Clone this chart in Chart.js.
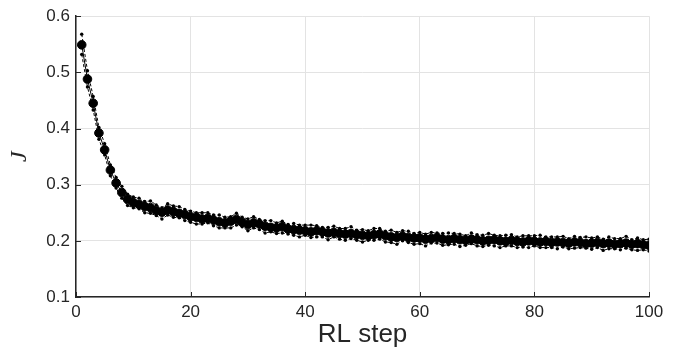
<!DOCTYPE html>
<html>
<head>
<meta charset="utf-8">
<script src="https://cdn.jsdelivr.net/npm/chart.js@4"></script>
<style>
    html, body { margin: 0; padding: 0; background: #ffffff; }
    #chartBox { width: 678px; height: 347px; position: relative; }
</style>
</head>
<body>
<div id="chartBox"><canvas id="lossChart"></canvas></div>
<script>
// RL steps 1..100
const rlSteps = Array.from({ length: 100 }, (_, i) => i + 1);

// mean cost J at each step
const meanJ = [
    0.549, 0.488, 0.445, 0.392, 0.362, 0.326, 0.303, 0.286, 0.274, 0.268,
    0.265, 0.261, 0.259, 0.254, 0.251, 0.255, 0.252, 0.249, 0.247, 0.243,
    0.242, 0.239, 0.240, 0.237, 0.234, 0.232, 0.235, 0.238, 0.233, 0.229,
    0.232, 0.230, 0.226, 0.224, 0.223, 0.225, 0.221, 0.220, 0.219, 0.218,
    0.216, 0.218, 0.216, 0.214, 0.215, 0.213, 0.212, 0.213, 0.211, 0.210,
    0.209, 0.211, 0.212, 0.209, 0.207, 0.206, 0.208, 0.206, 0.205, 0.205,
    0.203, 0.204, 0.206, 0.203, 0.202, 0.204, 0.202, 0.201, 0.203, 0.202,
    0.200, 0.201, 0.202, 0.200, 0.199, 0.201, 0.199, 0.198, 0.200, 0.199,
    0.198, 0.199, 0.197, 0.198, 0.197, 0.196, 0.198, 0.197, 0.195, 0.196,
    0.197, 0.195, 0.196, 0.194, 0.195, 0.196, 0.194, 0.195, 0.193, 0.192
];

// distance of the upper dashed curve above the mean
const upperDev = [
    0.019, 0.015, 0.012, 0.010, 0.011, 0.009, 0.010, 0.011, 0.009, 0.010,
    0.011, 0.009, 0.012, 0.010, 0.008, 0.011, 0.010, 0.012, 0.009, 0.010,
    0.008, 0.011, 0.010, 0.009, 0.012, 0.010, 0.008, 0.011, 0.009, 0.010,
    0.011, 0.008, 0.010, 0.012, 0.009, 0.010, 0.008, 0.011, 0.009, 0.010,
    0.012, 0.009, 0.008, 0.010, 0.011, 0.009, 0.010, 0.012, 0.008, 0.010,
    0.009, 0.011, 0.010, 0.008, 0.012, 0.009, 0.010, 0.011, 0.008, 0.010,
    0.009, 0.011, 0.008, 0.010, 0.012, 0.009, 0.010, 0.008, 0.011, 0.009,
    0.010, 0.012, 0.008, 0.009, 0.011, 0.010, 0.008, 0.011, 0.009, 0.010,
    0.012, 0.008, 0.010, 0.009, 0.011, 0.008, 0.010, 0.009, 0.012, 0.009,
    0.010, 0.008, 0.011, 0.010, 0.009, 0.012, 0.008, 0.010, 0.009, 0.011
];

// distance of the lower dashed curve below the mean
const lowerDev = [
    0.017, 0.014, 0.012, 0.011, 0.009, 0.010, 0.009, 0.010, 0.011, 0.009,
    0.008, 0.011, 0.010, 0.009, 0.012, 0.009, 0.010, 0.008, 0.011, 0.010,
    0.012, 0.009, 0.008, 0.010, 0.011, 0.009, 0.012, 0.010, 0.008, 0.011,
    0.009, 0.010, 0.012, 0.008, 0.010, 0.011, 0.009, 0.010, 0.012, 0.008,
    0.010, 0.011, 0.009, 0.012, 0.008, 0.010, 0.011, 0.009, 0.010, 0.012,
    0.008, 0.010, 0.009, 0.011, 0.010, 0.012, 0.008, 0.009, 0.011, 0.010,
    0.012, 0.008, 0.010, 0.011, 0.009, 0.010, 0.012, 0.009, 0.008, 0.011,
    0.010, 0.009, 0.011, 0.012, 0.008, 0.010, 0.011, 0.009, 0.012, 0.008,
    0.010, 0.011, 0.009, 0.012, 0.008, 0.010, 0.011, 0.009, 0.008, 0.011,
    0.009, 0.012, 0.010, 0.008, 0.011, 0.009, 0.010, 0.012, 0.009, 0.010
];

const xTicks = [0, 20, 40, 60, 80, 100];
const yTicks = [0.1, 0.2, 0.3, 0.4, 0.5, 0.6];

function toPoints(values) {
    return values.map((v, i) => ({ x: rlSteps[i], y: v }));
}

let upperJ = meanJ.map((m, i) => m + upperDev[i]);
let lowerJ = meanJ.map((m, i) => m - lowerDev[i]);

const axisColor = '#262626';
const gridColor = '#e3e3e3';

/**
 * Draws the short tick marks pointing into the plot area, MATLAB style
 */
const innerTicks = {
    id: 'innerTicks',
    afterDatasetsDraw(chart) {
        const ctx = chart.ctx;
        const area = chart.chartArea;
        const xScale = chart.scales.x;
        const yScale = chart.scales.y;
        ctx.save();
        ctx.strokeStyle = axisColor;
        ctx.lineWidth = 1;
        ctx.beginPath();
        for (let i = 0; i < xTicks.length; i++) {
            let px = Math.round(xScale.getPixelForValue(xTicks[i])) + 0.5;
            ctx.moveTo(px, area.bottom);
            ctx.lineTo(px, area.bottom - 5);
        }
        for (let i = 0; i < yTicks.length; i++) {
            let py = Math.round(yScale.getPixelForValue(yTicks[i])) + 0.5;
            ctx.moveTo(area.left, py);
            ctx.lineTo(area.left + 5, py);
        }
        ctx.stroke();
        ctx.restore();
    }
};

const boundStyle = {
    borderColor: '#000000',
    borderWidth: 1,
    borderDash: [3, 2],
    pointRadius: 1.7,
    pointBackgroundColor: '#000000',
    pointBorderWidth: 0,
    fill: false,
    tension: 0
};

const config = {
    type: 'line',
    data: {
        datasets: [
            Object.assign({ label: 'upper', data: toPoints(upperJ) }, boundStyle),
            Object.assign({ label: 'lower', data: toPoints(lowerJ) }, boundStyle),
            {
                label: 'mean',
                data: toPoints(meanJ),
                borderColor: '#000000',
                borderWidth: 1,
                pointRadius: 4.3,
                pointBackgroundColor: '#000000',
                pointBorderColor: '#000000',
                pointBorderWidth: 1,
                fill: false,
                tension: 0
            }
        ]
    },
    options: {
        responsive: true,
        maintainAspectRatio: false,
        animation: false,
        layout: { padding: { top: 15, right: 29, left: 0, bottom: 0 } },
        plugins: {
            legend: { display: false },
            tooltip: { enabled: false }
        },
        scales: {
            x: {
                type: 'linear',
                min: 0,
                max: 100,
                afterBuildTicks: (axis) => { axis.ticks = xTicks.map(v => ({ value: v })); },
                afterFit: (axis) => { axis.height = 50; },
                grid: { color: gridColor, lineWidth: 1, drawTicks: false },
                border: { color: axisColor, width: 1.5 },
                ticks: {
                    color: axisColor,
                    padding: 5,
                    maxRotation: 0,
                    font: { family: 'Liberation Sans, Arial, sans-serif', size: 17 }
                },
                title: {
                    display: true,
                    text: 'RL step',
                    color: axisColor,
                    padding: { top: 0, bottom: -3 },
                    font: { family: 'Liberation Sans, Arial, sans-serif', size: 26 }
                }
            },
            y: {
                type: 'linear',
                min: 0.1,
                max: 0.6,
                afterBuildTicks: (axis) => { axis.ticks = yTicks.map(v => ({ value: v })); },
                afterFit: (axis) => { axis.width = 76; },
                grid: { color: gridColor, lineWidth: 1, drawTicks: false },
                border: { color: axisColor, width: 1.5 },
                ticks: {
                    color: axisColor,
                    padding: 6,
                    callback: (value) => value.toFixed(1),
                    font: { family: 'Liberation Sans, Arial, sans-serif', size: 17 }
                },
                title: {
                    display: true,
                    text: 'J',
                    color: axisColor,
                    padding: { top: 5, bottom: 0 },
                    font: { family: 'Liberation Serif, DejaVu Serif, serif', size: 24, style: 'italic' }
                }
            }
        }
    },
    plugins: [innerTicks]
};

new Chart(document.getElementById('lossChart'), config);
</script>
</body>
</html>
